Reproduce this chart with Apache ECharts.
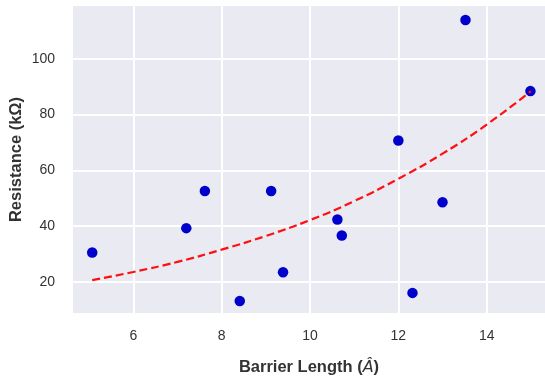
<!DOCTYPE html>
<html>
<head>
<meta charset="utf-8">
<script src="https://cdn.jsdelivr.net/npm/echarts@6/dist/echarts.min.js"></script>
<style>
html,body{margin:0;padding:0;background:#fff;}
#c{width:545px;height:380px;}
</style>
</head>
<body>
<div id="c"></div>
<script>
// Measured data points
const barrierLength = [5.07, 7.20, 7.62, 8.41, 9.12, 9.39, 10.62, 10.72, 12.0, 12.32, 13.0, 13.52, 14.99];
const resistance   = [30.6, 39.3, 52.6, 13.2, 52.6, 23.5, 42.4, 36.7, 70.7, 16.1, 48.6, 113.9, 88.4];
// Fitted curve
const fitX = [5.07, 6, 7, 8, 9, 10, 11, 12, 13, 14, 15];
const fitY = [20.7, 23.6, 27.2, 31.6, 36.5, 42.2, 49.0, 57.0, 66.0, 76.4, 88.4];

const scatterData = barrierLength.map((x, i) => [x, resistance[i]]);
const fitData = fitX.map((x, i) => [x, fitY[i]]);

const chart = echarts.init(document.getElementById('c'), null, {renderer: 'canvas'});
const txt = '#333333';
const ff = 'Liberation Sans, Arial, sans-serif';
const intFmt = v => (Math.abs(v - Math.round(v)) < 1e-6 ? String(Math.round(v)) : '');
chart.setOption({
  backgroundColor: '#ffffff',
  animation: false,
  grid: {left: 73, right: 0, top: 6, bottom: 67, containLabel: false, outerBoundsMode: 'none',
         show: true, backgroundColor: '#eaeaf2', borderWidth: 0},
  xAxis: {
    type: 'value', min: 4.635, max: 15.32, splitNumber: 5,
    axisLine: {show: false}, axisTick: {show: false},
    axisLabel: {color: txt, fontSize: 14, fontFamily: ff,
                margin: 16, showMinLabel: false, showMaxLabel: false, formatter: intFmt},
    splitLine: {show: true, showMinLine: false, showMaxLine: false, lineStyle: {color: '#ffffff', width: 2}},
    name: '{a|Barrier Length (}{b|Â}{a|)}',
    nameLocation: 'middle', nameGap: 46, nameMoveOverlap: false,
    nameTextStyle: {rich: {
      a: {fontSize: 16.5, fontWeight: 'bold', color: txt, fontFamily: ff},
      b: {fontSize: 16, fontStyle: 'italic', color: txt, fontFamily: 'DejaVu Sans, sans-serif'}
    }}
  },
  yAxis: {
    type: 'value', min: 8.9, max: 118.9, splitNumber: 5,
    axisLine: {show: false}, axisTick: {show: false},
    axisLabel: {color: txt, fontSize: 14, fontFamily: ff,
                margin: 18, showMinLabel: false, showMaxLabel: false, formatter: intFmt},
    splitLine: {show: true, showMinLine: false, showMaxLine: false, lineStyle: {color: '#ffffff', width: 2}},
    name: 'Resistance (kΩ)', nameLocation: 'middle', nameGap: 48, nameRotate: 90, nameMoveOverlap: false,
    nameTextStyle: {fontSize: 16.5, fontWeight: 'bold', color: txt, fontFamily: ff}
  },
  series: [
    {type: 'scatter', data: scatterData, symbolSize: 10.5,
     itemStyle: {color: '#0000cc', opacity: 1}, z: 2},
    {type: 'line', data: fitData, smooth: true, showSymbol: false, symbol: 'none',
     lineStyle: {color: '#ff1010', width: 2.2, type: [8, 4]}, z: 3}
  ]
});
</script>
</body>
</html>
